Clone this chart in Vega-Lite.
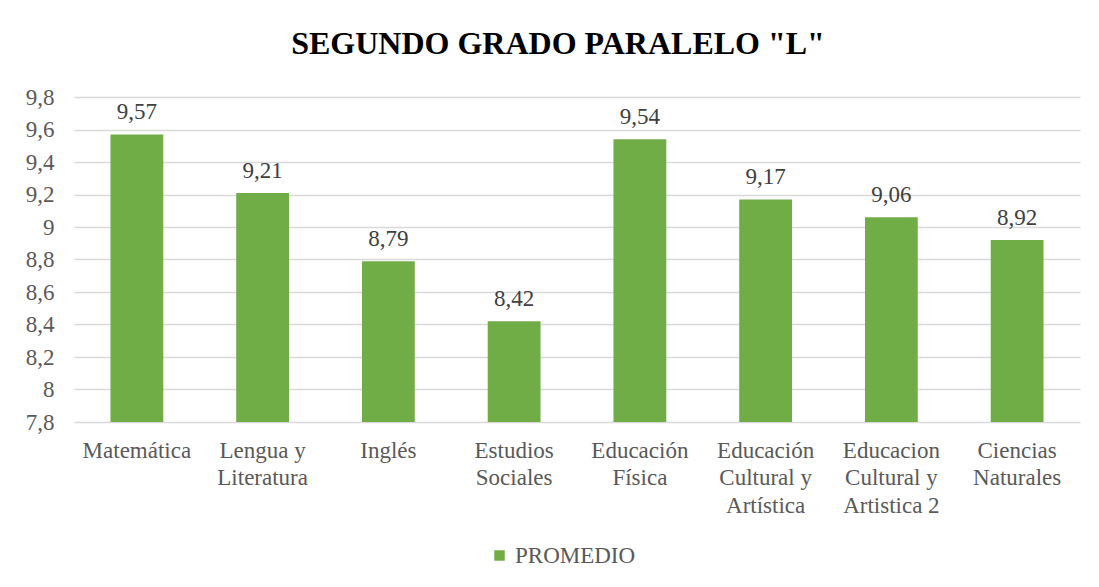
{
  "$schema": "https://vega.github.io/schema/vega-lite/v6.json",
  "width": 1006,
  "height": 325,
  "autosize": {"type": "none"},
  "padding": {"left": 74, "top": 97, "right": 19, "bottom": 165},
  "background": "white",
  "title": {
    "text": "SEGUNDO GRADO PARALELO \"L\"",
    "font": "Liberation Serif",
    "fontSize": 32,
    "fontWeight": "bold",
    "color": "#000000",
    "anchor": "middle",
    "dx": -19,
    "offset": 25
  },
  "config": {
    "view": {"stroke": null},
    "locale": {"number": {"decimal": ",", "thousands": ".", "grouping": [3], "currency": ["", ""]}},
    "font": "Liberation Serif"
  },
  "data": {
    "values": [
      {"materia": "Matemática", "promedio": 9.57, "serie": "PROMEDIO"},
      {"materia": "Lengua y|Literatura", "promedio": 9.21, "serie": "PROMEDIO"},
      {"materia": "Inglés", "promedio": 8.79, "serie": "PROMEDIO"},
      {"materia": "Estudios|Sociales", "promedio": 8.42, "serie": "PROMEDIO"},
      {"materia": "Educación|Física", "promedio": 9.54, "serie": "PROMEDIO"},
      {"materia": "Educación|Cultural y|Artística", "promedio": 9.17, "serie": "PROMEDIO"},
      {"materia": "Educacion|Cultural y|Artistica 2", "promedio": 9.06, "serie": "PROMEDIO"},
      {"materia": "Ciencias|Naturales", "promedio": 8.92, "serie": "PROMEDIO"}
    ]
  },
  "encoding": {
    "x": {
      "field": "materia",
      "type": "nominal",
      "sort": null,
      "scale": {"paddingInner": 0.58, "paddingOuter": 0.29},
      "axis": {
        "title": null,
        "labelAngle": 0,
        "labelExpr": "split(datum.label, '|')",
        "labelFont": "Liberation Serif",
        "labelFontSize": 23,
        "labelColor": "#595959",
        "labelLineHeight": 27.5,
        "labelPadding": 17,
        "labelOverlap": false,
        "ticks": false,
        "domain": false,
        "labelBaseline": "top"
      }
    },
    "y": {
      "field": "promedio",
      "type": "quantitative",
      "scale": {"domain": [7.8, 9.8], "zero": false, "nice": false},
      "axis": {
        "title": null,
        "values": [7.8, 8, 8.2, 8.4, 8.6, 8.8, 9, 9.2, 9.4, 9.6, 9.8],
        "tickCount": 11,
        "format": "~g",
        "labelFont": "Liberation Serif",
        "labelFontSize": 23,
        "labelColor": "#595959",
        "labelPadding": 20,
        "labelOverlap": false,
        "labelBound": false,
        "labelFlush": false,
        "ticks": false,
        "domain": false,
        "grid": true,
        "gridColor": "#d9d9d9",
        "gridWidth": 1.3
      }
    }
  },
  "layer": [
    {
      "mark": {"type": "bar", "color": "#70ad47"},
      "encoding": {
        "y2": {"datum": 7.8},
        "color": {
          "field": "serie",
          "type": "nominal",
          "scale": {"range": ["#70ad47"]},
          "legend": {
            "title": null,
            "orient": "none",
            "legendX": 414,
            "legendY": 447,
            "symbolType": "square",
            "symbolSize": 110,
            "symbolStrokeWidth": 0,
            "labelFont": "Liberation Serif",
            "labelFontSize": 23,
            "labelColor": "#595959",
            "labelOffset": 4
          }
        }
      }
    },
    {
      "mark": {
        "type": "text",
        "baseline": "bottom",
        "dy": -10,
        "font": "Liberation Serif",
        "fontSize": 23,
        "color": "#404040"
      },
      "encoding": {
        "text": {"field": "promedio", "type": "quantitative", "format": ".2f"}
      }
    }
  ]
}
